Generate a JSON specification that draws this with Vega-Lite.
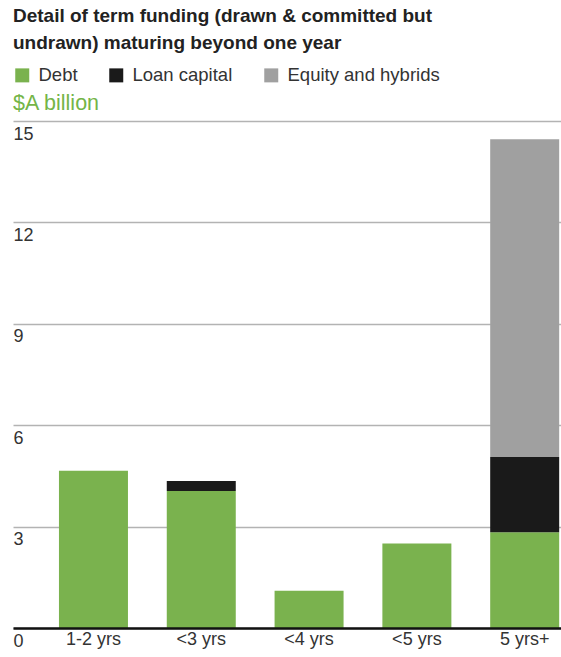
{
  "$schema": "https://vega.github.io/schema/vega-lite/v6.json",
  "autosize": {"type": "none"},
  "width": 548,
  "height": 507,
  "padding": {"left": 13, "top": 121, "right": 0, "bottom": 30},
  "background": "white",
  "title": {
    "text": ["Detail of term funding (drawn & committed but", "undrawn) maturing beyond one year"],
    "subtitle": "$A billion",
    "anchor": "start",
    "frame": "group",
    "font": "Liberation Sans",
    "fontSize": 19,
    "fontWeight": "bold",
    "color": "#222222",
    "lineHeight": 27,
    "subtitleFont": "Liberation Sans",
    "subtitleFontSize": 21.5,
    "subtitleColor": "#74b547",
    "subtitlePadding": 40,
    "offset": -48
  },
  "data": {
    "values": [
      {"term": "1-2 yrs", "type": "Debt", "k": 1, "value": 4.65},
      {"term": "<3 yrs", "type": "Debt", "k": 1, "value": 4.05},
      {"term": "<3 yrs", "type": "Loan capital", "k": 2, "value": 0.3},
      {"term": "<4 yrs", "type": "Debt", "k": 1, "value": 1.1},
      {"term": "<5 yrs", "type": "Debt", "k": 1, "value": 2.5},
      {"term": "5 yrs+", "type": "Debt", "k": 1, "value": 2.83},
      {"term": "5 yrs+", "type": "Loan capital", "k": 2, "value": 2.23},
      {"term": "5 yrs+", "type": "Equity and hybrids", "k": 3, "value": 9.4}
    ]
  },
  "mark": {"type": "bar"},
  "encoding": {
    "x": {
      "field": "term",
      "type": "nominal",
      "sort": ["1-2 yrs", "<3 yrs", "<4 yrs", "<5 yrs", "5 yrs+"],
      "scale": {"paddingInner": 0.36, "paddingOuter": 0.2216, "align": 0.962},
      "axis": {
        "title": null,
        "labelAngle": 0,
        "labelFont": "Liberation Sans",
        "labelFontSize": 18,
        "labelColor": "#333333",
        "labelPadding": 2,
        "ticks": false,
        "tickSize": 0,
        "domain": true,
        "domainColor": "#111111",
        "domainWidth": 2.5,
        "grid": false,
        "zindex": 2
      }
    },
    "y": {
      "field": "value",
      "type": "quantitative",
      "aggregate": "sum",
      "stack": "zero",
      "scale": {"domain": [0, 15], "nice": false},
      "axis": {
        "title": null,
        "values": [0, 3, 6, 9, 12, 15],
        "grid": true,
        "gridColor": "#b3b3b3",
        "gridWidth": 1.3,
        "domain": false,
        "ticks": false,
        "tickSize": 0,
        "labelAlign": "left",
        "labelBaseline": "top",
        "labelFlush": false,
        "labelPadding": 0,
        "labelOffset": 4,
        "labelFont": "Liberation Sans",
        "labelFontSize": 18,
        "labelColor": "#333333",
        "zindex": 0
      }
    },
    "color": {
      "field": "type",
      "type": "nominal",
      "scale": {
        "domain": ["Debt", "Loan capital", "Equity and hybrids"],
        "range": ["#7ab24e", "#1a1a1a", "#a0a0a0"]
      },
      "legend": {
        "title": null,
        "orient": "none",
        "legendX": 0,
        "legendY": -55,
        "direction": "horizontal",
        "symbolType": "square",
        "symbolSize": 196,
        "symbolStrokeWidth": 0,
        "symbolOpacity": 1,
        "labelFont": "Liberation Sans",
        "labelFontSize": 18.5,
        "labelColor": "#333333",
        "labelOffset": 7,
        "columnPadding": 29,
        "padding": 0
      }
    },
    "order": {"field": "k", "type": "quantitative", "sort": "ascending"}
  },
  "config": {"view": {"stroke": null}}
}
